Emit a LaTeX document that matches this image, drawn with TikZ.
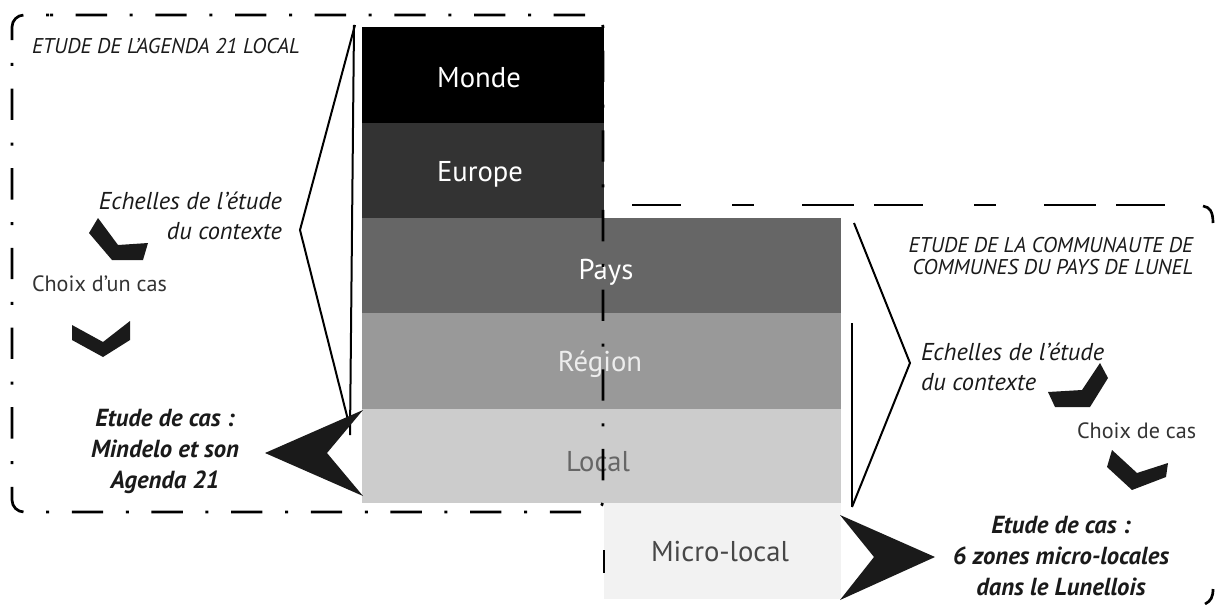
\documentclass[tikz,border=0pt]{standalone}
\usepackage{fontspec}
\setmainfont{PT Sans}
\definecolor{barA}{HTML}{000000}
\definecolor{barB}{HTML}{333333}
\definecolor{barC}{HTML}{666666}
\definecolor{barD}{HTML}{999999}
\definecolor{barE}{HTML}{CCCCCC}
\definecolor{barF}{HTML}{F2F2F2}
\definecolor{ink}{HTML}{1A1A1A}
\begin{document}
\begin{tikzpicture}[x=0.75pt,y=-0.75pt,
  lbl/.style={inner sep=0pt,outer sep=0pt,text=ink},
  barlbl/.style={lbl,font=\fontsize{21.5pt}{24pt}\selectfont,anchor=base},
  capsit/.style={lbl,font=\fontsize{16pt}{16.5pt}\selectfont\itshape},
  ital/.style={lbl,font=\fontsize{18.3pt}{22.5pt}\selectfont\itshape},
  plain/.style={lbl,font=\fontsize{16.6pt}{20pt}\selectfont,text=black!80},
  boldit/.style={lbl,font=\fontsize{18.5pt}{23.25pt}\selectfont\bfseries\itshape,align=center},
  brk/.style={line width=1.5pt,line join=miter},
  ldash/.style={line width=2pt,dash pattern=on 2.25pt off 17pt on 23.5pt off 17pt},
  rdash/.style={line width=2pt,dash pattern=on 36.75pt off 38.25pt on 16.5pt off 36pt on 39pt off 15pt},
  chev/.style={fill=ink}
]
\useasboundingbox (0,0) rectangle (1217,604);
\fill[white] (0,0) rectangle (1217,604);

% stacked scale bars
\fill[barA] (362,27) rectangle (604,123);
\fill[barB] (362,123) rectangle (604,218);
\fill[barC] (362,218) rectangle (841,313);
\fill[barD] (362,313) rectangle (841,409);
\fill[barE] (362,409) rectangle (841,503);
\fill[barF] (604,503) rectangle (841,599);

\node[barlbl,text=white] (monde) at (479,87) {Monde};
\node[barlbl,text=white] (europe) at (480,181) {Europe};
\node[barlbl,text=white] (pays) at (606,279) {Pays};
\node[barlbl,text=white!93!black] (region) at (600,371) {Région};
\node[barlbl,text=black!60] (local) at (598,471) {Local};
\node[barlbl,text=black!72] (micro) at (720,561) {Micro-local};

% left frame (dash-dot)
\draw[ldash,rounded corners=9pt] (38,15) -- (603,15) -- (603,512) -- (12,512) -- (12,15) -- cycle;

% right frame (dashed)
\draw[rdash] (632,205) -- (1166,205);
\draw[line width=2pt] (1203,206) .. controls (1210,207) and (1213,212) .. (1213,223);
\draw[line width=2pt] (1213,589) .. controls (1213,597) and (1211,601) .. (1205,604);
\draw[line width=2pt] (604,550) -- (604,573);

% brackets
\coordinate (lbt) at (355,25);
\coordinate (lbm) at (300,230);
\coordinate (lbb) at (348,420);
\draw[brk] (lbt) -- (lbm) -- (lbb);
\draw[brk] (354,25) -- (350,435);
\coordinate (rbt) at (854,223);
\coordinate (rbm) at (910,363);
\coordinate (rbb) at (852,507);
\draw[brk] (rbt) -- (rbm) -- (rbb);
\draw[brk] (852,323) -- (rbb);

% arrowheads
\fill[ink] (363,410) -- (265,453) -- (363,496) -- (327,453) -- cycle;
\fill[ink] (840,515) -- (935,557) -- (840,600) -- (874,557) -- cycle;

% chevrons
\fill[chev] (98,218) -- (118,245) -- (148,243) -- (143,260) -- (112,260) -- (89,233) -- cycle;
\fill[chev] (72,325) -- (103,342) -- (130,321) -- (130,340) -- (103,357) -- (72,340) -- cycle;
\fill[chev] (1100,363) -- (1108,378) -- (1090,407) -- (1055,407) -- (1048,392) -- (1082,390) -- cycle;
\fill[chev] (1112,450) -- (1137,473) -- (1168,463) -- (1166,477) -- (1132,490) -- (1107,467) -- cycle;

% texts left
\node[capsit,anchor=base west] (tleft) at (32,53) {ETUDE DE L'AGENDA 21 LOCAL};
\node[ital,align=right,anchor=east] (echl) at (282,216) {Echelles de l'étude\\du contexte};
\node[plain,anchor=base west] (choixl) at (32,291) {Choix d'un cas};
\node[boldit] (casl) at (165,451) {Etude de cas :\\Mindelo et son\\Agenda 21};

% texts right
\node[capsit,align=right,anchor=east] (tright) at (1193,256) {ETUDE DE LA COMMUNAUTE DE\\COMMUNES DU PAYS DE LUNEL};
\node[ital,align=left,anchor=west] (echr) at (921,367) {Echelles de l'étude\\du contexte};
\node[plain,anchor=base west] (choixr) at (1077,438) {Choix de cas};
\node[boldit] (casr) at (1061,556) {Etude de cas :\\6 zones micro-locales\\dans le Lunellois};
\end{tikzpicture}
\end{document}
